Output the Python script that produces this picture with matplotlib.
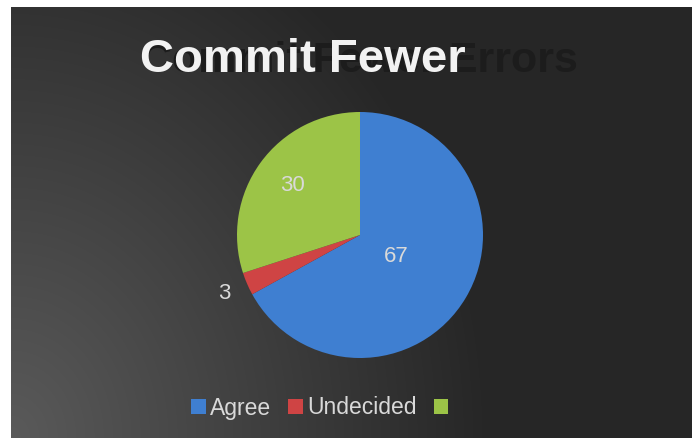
import numpy as np
import matplotlib
matplotlib.use("Agg")
import matplotlib.pyplot as plt
from matplotlib.patches import Patch

plt.rcParams['font.family'] = ['Liberation Sans', 'DejaVu Sans']

labels = ['Agree', 'Undecided', '']
values = [67, 3, 30]
colors = ['#3f7fd1', '#cf4444', '#9cc447']
label_dist = [0.34, 1.2, 0.68]

title_main = 'Commit Fewer'
title_shadow = 'Commit Fewer Errors'

W, H = 694, 438
fig = plt.figure(figsize=(W / 100, H / 100), dpi=100)
fig.patch.set_facecolor('white')

# dark background with a light glow in the lower left corner
bg = fig.add_axes([11 / W, 0, 681 / W, 431 / H])
bw, bh = 681, 431
xx, yy = np.meshgrid(np.arange(bw), np.arange(bh))
d = np.sqrt(xx ** 2 + (yy * 0.85) ** 2)
t = np.clip(1 - d / 480, 0, 1)
grey = (38 + 52 * t) / 255
img = np.dstack([grey, grey, grey])
bg.imshow(img, origin='lower', aspect='auto', extent=[0, bw, 0, bh])
bg.axis('off')

# title: dark shadow copy behind, white text on top
fig.text(141 / W, 1 - 72 / H, title_shadow, ha='left', va='baseline',
         fontsize=31, fontweight='bold', color='#1c1c1c')
fig.text(140 / W, 1 - 72 / H, title_main, ha='left', va='baseline',
         fontsize=34, fontweight='bold', color='#f2f2f2')

# pie
cx, cy, r = 360, 235, 123
ax = fig.add_axes([(cx - r) / W, (H - cy - r) / H, 2 * r / W, 2 * r / H])
wedges, _ = ax.pie(values, colors=colors, startangle=90, counterclock=False,
                   wedgeprops=dict(edgecolor='none'))
ax.set_xlim(-1, 1)
ax.set_ylim(-1, 1)
ax.set_aspect('equal')
ax.axis('off')

for w, v, dist in zip(wedges, values, label_dist):
    ang = np.deg2rad((w.theta1 + w.theta2) / 2)
    ax.text(dist * np.cos(ang), dist * np.sin(ang), str(v), ha='center',
            va='center', fontsize=16, color='#d9d9d9')

handles = [Patch(facecolor=c, edgecolor='none') for c in colors]
fig.legend(handles, labels, loc='center', bbox_to_anchor=(322 / W, 1 - 408 / H),
           ncol=3, frameon=False, fontsize=16.5, labelcolor='#d9d9d9',
           handlelength=0.62, handleheight=0.62, handletextpad=0.2,
           columnspacing=0.75)

fig.savefig('out.png', dpi=100, facecolor=fig.get_facecolor())
